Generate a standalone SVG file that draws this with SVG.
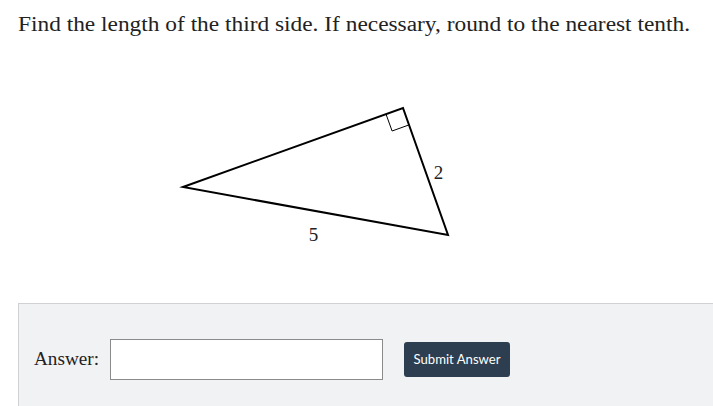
<svg xmlns="http://www.w3.org/2000/svg" width="713" height="406" viewBox="0 0 713 406">
<style>
.serif{font-family:"Liberation Serif","DejaVu Serif",serif;fill:#222}
.edge{fill:none;stroke:#000;stroke-width:2;stroke-linejoin:miter}
</style>
<rect width="713" height="406" fill="#fff"/>
<text class="serif" x="18" y="31" font-size="20" textLength="672" lengthAdjust="spacingAndGlyphs">Find the length of the third side. If necessary, round to the nearest tenth.</text>
<g id="triangle">
<polygon class="edge" points="183,187 403,108 448,235"/>
<polyline fill="none" stroke="#000" stroke-width="1" points="386,114.1 392.1,131 409,124.9"/>
</g>
<g id="labels">
<text class="serif" x="438.5" y="179" font-size="19" text-anchor="middle" fill="#000">2</text>
<text class="serif" x="313.5" y="241" font-size="19" text-anchor="middle" fill="#000">5</text>
</g>
<g id="answer-panel">
<rect x="18.5" y="303.5" width="700" height="110" fill="#f1f2f4" stroke="#cfd1d4" stroke-width="1"/>
<text class="serif" x="34" y="365" font-size="18" textLength="65" lengthAdjust="spacingAndGlyphs">Answer:</text>
<rect x="110.5" y="339.5" width="272" height="40" fill="#fff" stroke="#8a8a8a" stroke-width="1"/>
<rect x="404" y="342" width="106" height="35" rx="3" fill="#2c3e50"/>
<text x="457" y="364" font-family="Lato,'Open Sans',sans-serif" font-size="13.5" fill="#fff" text-anchor="middle" textLength="87" lengthAdjust="spacingAndGlyphs">Submit Answer</text>
</g>
</svg>
